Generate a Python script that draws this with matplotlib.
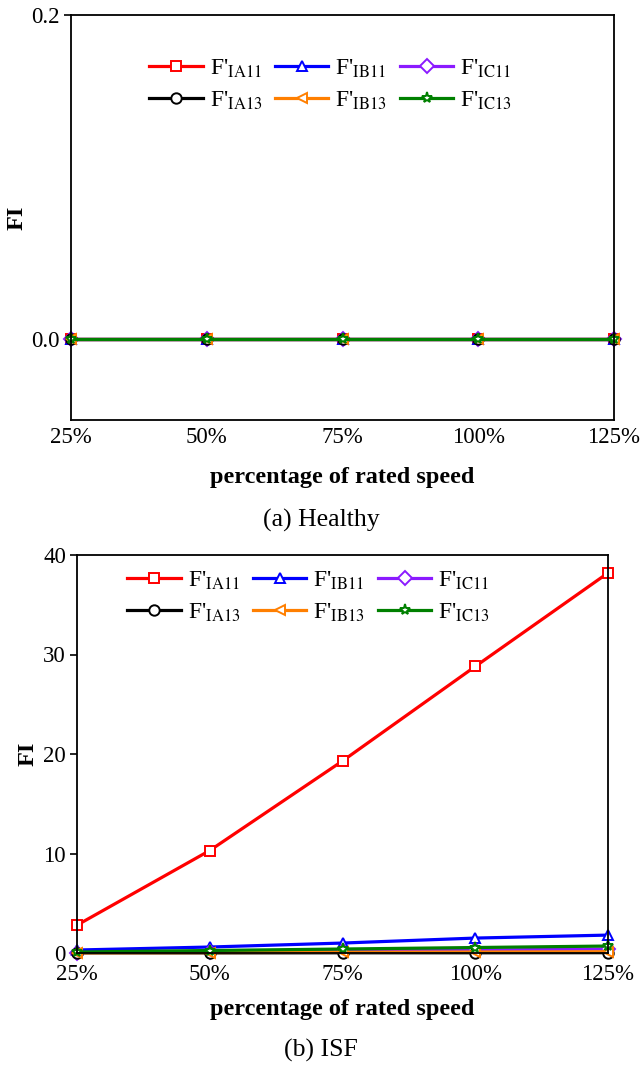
import matplotlib
matplotlib.use("Agg")
import matplotlib.pyplot as plt

plt.rcParams['font.family'] = ['Liberation Serif', 'DejaVu Serif']
plt.rcParams['mathtext.fontset'] = 'stix'

speeds = ["25%", "50%", "75%", "100%", "125%"]
labels = [r"F'$_{\mathrm{IA11}}$", r"F'$_{\mathrm{IB11}}$", r"F'$_{\mathrm{IC11}}$",
          r"F'$_{\mathrm{IA13}}$", r"F'$_{\mathrm{IB13}}$", r"F'$_{\mathrm{IC13}}$"]
colors = ['#ff0000', '#0000ff', '#8b1aff', '#000000', '#ff7f00', '#008000']
markers = ['s', '^', 'D', 'o', '<', '*']

healthy_IA11 = [0, 0, 0, 0, 0]
healthy_IB11 = [0, 0, 0, 0, 0]
healthy_IC11 = [0, 0, 0, 0, 0]
healthy_IA13 = [0, 0, 0, 0, 0]
healthy_IB13 = [0, 0, 0, 0, 0]
healthy_IC13 = [0, 0, 0, 0, 0]

isf_IA11 = [2.8, 10.3, 19.3, 28.8, 38.2]
isf_IB11 = [0.3, 0.6, 1.0, 1.5, 1.8]
isf_IC11 = [0.05, 0.1, 0.2, 0.3, 0.4]
isf_IA13 = [0.01, 0.01, 0.02, 0.02, 0.03]
isf_IB13 = [0.02, 0.04, 0.07, 0.1, 0.13]
isf_IC13 = [0.1, 0.25, 0.4, 0.55, 0.7]

healthy = [healthy_IA11, healthy_IB11, healthy_IC11, healthy_IA13, healthy_IB13, healthy_IC13]
isf = [isf_IA11, isf_IB11, isf_IC11, isf_IA13, isf_IB13, isf_IC13]

W, H = 642, 1068
fig = plt.figure(figsize=(W / 100, H / 100), dpi=100)
ax1 = fig.add_axes([71 / W, 1 - 420 / H, (614 - 71) / W, (420 - 15) / H])
ax2 = fig.add_axes([77 / W, 1 - 953 / H, (608 - 77) / W, (953 - 555) / H])

x = list(range(len(speeds)))
TICK_FS = 16.5
LAB_FS = 17.5
LEG_FS = 17


def draw(ax, data):
    handles = []
    for d, c, m, lab in zip(data, colors, markers, labels):
        ms = 7.5 if m != '*' else 8
        h, = ax.plot(x, d, color=c, marker=m, markerfacecolor='white', markeredgecolor=c,
                     markersize=ms, markeredgewidth=1.4, linewidth=2.3, label=lab,
                     clip_on=False)
        handles.append(h)
    ax.set_xlim(0, 4)
    ax.set_xticks(x)
    ax.set_xticklabels(speeds)
    ax.tick_params(axis='x', length=0, labelsize=TICK_FS)
    ax.tick_params(axis='y', labelsize=TICK_FS, direction='out', length=5, width=1.2, pad=3)
    for s in ax.spines.values():
        s.set_linewidth(1.3)
    ax.set_ylabel('FI', fontsize=LAB_FS, fontweight='bold', va='center')
    ax.set_xlabel('percentage of rated speed', fontsize=LAB_FS, fontweight='bold', va='center')
    # row-wise legend order
    order = [0, 3, 1, 4, 2, 5]
    return [handles[i] for i in order], [labels[i] for i in order]


leg_kw = dict(ncol=3, frameon=False, fontsize=LEG_FS, handlelength=2.25,
              columnspacing=0.55, handletextpad=0.3, labelspacing=0.42,
              borderaxespad=0, loc='upper left')

hs, ls = draw(ax1, healthy)
ax1.set_ylim(-0.05, 0.2)
ax1.set_yticks([0.0, 0.2])
ax1.set_yticklabels(['0.0', '0.2'])
ax1.tick_params(axis='x', pad=5)
ax1.xaxis.set_label_coords(0.5, (420 - 477) / 405)
ax1.yaxis.set_label_coords((17 - 71) / 543, 0.5)
ax1.legend(hs, ls, bbox_to_anchor=((140 - 71) / 543, (420 - 48) / 405), **leg_kw)

hs, ls = draw(ax2, isf)
ax2.set_ylim(0, 40)
ax2.set_yticks([0, 10, 20, 30, 40])
ax2.tick_params(axis='x', pad=8)
ax2.xaxis.set_label_coords(0.5, (953 - 1010) / 398)
ax2.yaxis.set_label_coords((28 - 77) / 531, 0.5)
ax2.legend(hs, ls, bbox_to_anchor=((118 - 77) / 531, (953 - 560) / 398), **leg_kw)

fig.text(0.5, 1 - 520 / H, '(a) Healthy', ha='center', va='center', fontsize=18.5)
fig.text(0.5, 1 - 1050 / H, '(b) ISF', ha='center', va='center', fontsize=18.5)

fig.savefig('out.png', dpi=100)
